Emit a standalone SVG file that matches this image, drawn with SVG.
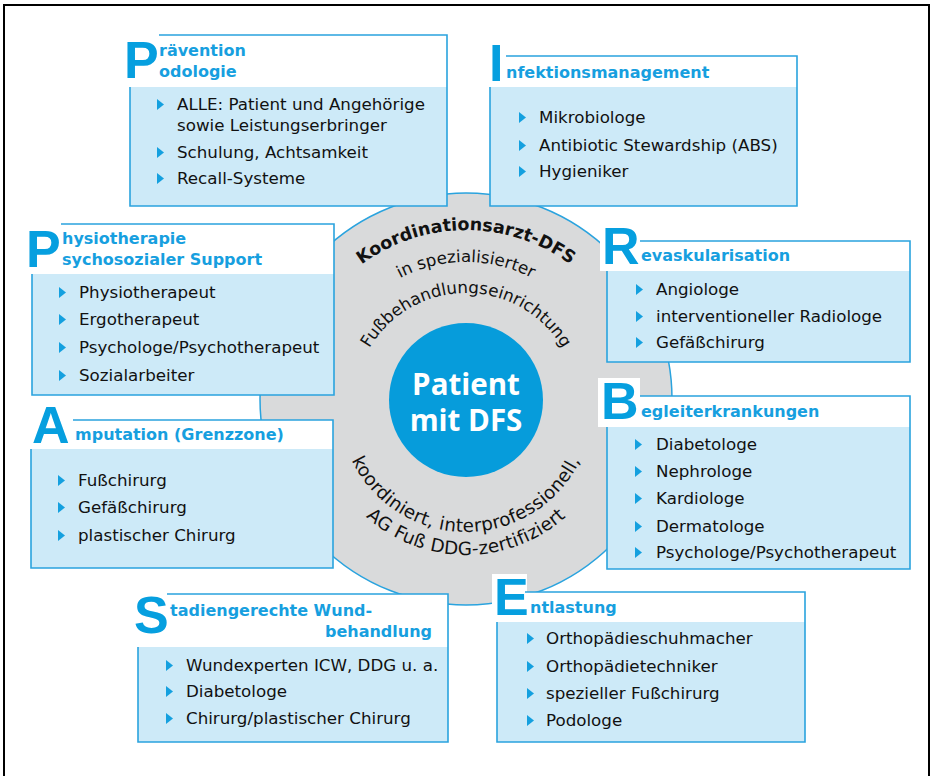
<svg xmlns="http://www.w3.org/2000/svg" width="932" height="776" viewBox="0 0 932 776">
<style>
.frame{fill:none;stroke:#000;stroke-width:2}
.hdr{fill:#fff}
.body{fill:#cdeaf8}
.brd{fill:none;stroke:#2aa3de;stroke-width:1.6}
.big{font-family:"Liberation Sans",Arial,sans-serif;font-weight:700;font-size:52px;fill:#069fdf}
.ht{font-family:"DejaVu Sans",sans-serif;font-weight:700;font-size:16px;fill:#179fdf}
.it{font-family:"DejaVu Sans",sans-serif;font-size:16.7px;fill:#111}
.tri{fill:#14a0df}
.lbg{fill:#fff}
.ct1{font-family:"DejaVu Sans",sans-serif;font-weight:700;font-size:17.5px;fill:#111}
.ct2{font-family:"DejaVu Sans",sans-serif;font-size:16.7px;fill:#111}
.ct3{font-family:"DejaVu Sans",sans-serif;font-size:18.3px;letter-spacing:0.3px;fill:#111}
.pt{font-family:"Open Sans","Liberation Sans",sans-serif;font-weight:700;font-size:29.5px;fill:#fff}
</style>
<defs>
<path id="tri" d="M0,-11 L7,-5.5 L0,0 Z"/>
<path id="a1" d="M291,405 A175,175 0 0 1 641,405"/>
<path id="a2" d="M323,405 A143,143 0 0 1 609,405"/>
<path id="a3" d="M354,405 A112,112 0 0 1 578,405"/>
<path id="a4" d="M339,405 A127,127 0 0 0 593,405"/>
<path id="a5" d="M316,405 A150,150 0 0 0 616,405"/>
</defs>
<rect class="frame" x="4" y="5" width="925" height="800"/>

<g id="center">
<circle cx="466" cy="399" r="206" fill="#d9dadb" stroke="#2aa3de" stroke-width="1.5"/>
<circle cx="466" cy="400" r="77" fill="#069cdb"/>
<text class="pt" x="466" y="395" text-anchor="middle">Patient</text>
<text class="pt" x="466" y="431" text-anchor="middle">mit DFS</text>
<text class="ct1"><textPath href="#a1" startOffset="50%" text-anchor="middle">Koordinationsarzt-DFS</textPath></text>
<text class="ct2"><textPath href="#a2" startOffset="50%" text-anchor="middle">in spezialisierter</textPath></text>
<text class="ct2"><textPath href="#a3" startOffset="50%" text-anchor="middle">Fußbehandlungseinrichtung</textPath></text>
<text class="ct3"><textPath href="#a4" startOffset="50%" text-anchor="middle">koordiniert, interprofessionell,</textPath></text>
<text class="ct3"><textPath href="#a5" startOffset="50%" text-anchor="middle">AG Fuß DDG-zertifiziert</textPath></text>
</g>

<g id="praevention">
<rect class="lbg" x="122" y="32" width="37" height="55"/>
<rect class="hdr" x="130" y="35" width="317" height="52"/>
<rect class="body" x="130" y="87" width="317" height="119"/>
<path class="brd" d="M159,35 H447 V206 H130 V87"/>
<text class="big" x="124" y="78">P</text>
<text class="ht" x="159" y="56">rävention</text>
<text class="ht" x="159" y="77">odologie</text>
<use href="#tri" class="tri" x="157" y="110"/>
<text class="it" x="177" y="110">ALLE: Patient und Angehörige</text>
<text class="it" x="177" y="131">sowie Leistungserbringer</text>
<use href="#tri" class="tri" x="157" y="158"/>
<text class="it" x="177" y="158">Schulung, Achtsamkeit</text>
<use href="#tri" class="tri" x="157" y="184"/>
<text class="it" x="177" y="184">Recall-Systeme</text>
</g>

<g id="infektion">
<rect class="lbg" x="486" y="38" width="20" height="49"/>
<rect class="hdr" x="490" y="56" width="307" height="31"/>
<rect class="body" x="490" y="87" width="307" height="119"/>
<path class="brd" d="M506,56 H797 V206 H490 V87"/>
<text class="big" x="489" y="81">I</text>
<text class="ht" x="506" y="78">nfektionsmanagement</text>
<use href="#tri" class="tri" x="519" y="123"/>
<text class="it" x="539" y="123">Mikrobiologe</text>
<use href="#tri" class="tri" x="519" y="151"/>
<text class="it" x="539" y="151">Antibiotic Stewardship (ABS)</text>
<use href="#tri" class="tri" x="519" y="177"/>
<text class="it" x="539" y="177">Hygieniker</text>
</g>

<g id="physiotherapie">
<rect class="lbg" x="26" y="221" width="35" height="53"/>
<rect class="hdr" x="32" y="224" width="302" height="50"/>
<rect class="body" x="32" y="274" width="302" height="121"/>
<path class="brd" d="M61,224 H334 V395 H32 V274"/>
<text class="big" x="26" y="267">P</text>
<text class="ht" x="62" y="244">hysiotherapie</text>
<text class="ht" x="62" y="265">sychosozialer Support</text>
<use href="#tri" class="tri" x="59" y="298"/>
<text class="it" x="79" y="298">Physiotherapeut</text>
<use href="#tri" class="tri" x="59" y="325"/>
<text class="it" x="79" y="325">Ergotherapeut</text>
<use href="#tri" class="tri" x="59" y="353"/>
<text class="it" x="79" y="353">Psychologe/Psychotherapeut</text>
<use href="#tri" class="tri" x="59" y="381"/>
<text class="it" x="79" y="381">Sozialarbeiter</text>
</g>

<g id="amputation">
<rect class="lbg" x="28" y="399" width="45" height="50"/>
<rect class="hdr" x="31" y="420" width="302" height="29"/>
<rect class="body" x="31" y="449" width="302" height="119"/>
<path class="brd" d="M73,420 H333 V568 H31 V449"/>
<text class="big" x="32" y="443">A</text>
<text class="ht" x="75" y="440">mputation (Grenzzone)</text>
<use href="#tri" class="tri" x="58" y="486"/>
<text class="it" x="78" y="486">Fußchirurg</text>
<use href="#tri" class="tri" x="58" y="513"/>
<text class="it" x="78" y="513">Gefäßchirurg</text>
<use href="#tri" class="tri" x="58" y="541"/>
<text class="it" x="78" y="541">plastischer Chirurg</text>
</g>

<g id="revaskularisation">
<rect class="lbg" x="600" y="222" width="40" height="49"/>
<rect class="hdr" x="607" y="241" width="303" height="30"/>
<rect class="body" x="607" y="271" width="303" height="91"/>
<path class="brd" d="M640,241 H910 V362 H607 V271"/>
<text class="big" x="602" y="264">R</text>
<text class="ht" x="641" y="261">evaskularisation</text>
<use href="#tri" class="tri" x="636" y="295"/>
<text class="it" x="656" y="295">Angiologe</text>
<use href="#tri" class="tri" x="636" y="322"/>
<text class="it" x="656" y="322">interventioneller Radiologe</text>
<use href="#tri" class="tri" x="636" y="348"/>
<text class="it" x="656" y="348">Gefäßchirurg</text>
</g>

<g id="begleiterkrankungen">
<rect class="lbg" x="598" y="378" width="42" height="49"/>
<rect class="hdr" x="607" y="396" width="303" height="31"/>
<rect class="body" x="607" y="427" width="303" height="142"/>
<path class="brd" d="M640,396 H910 V569 H607 V427"/>
<text class="big" x="601" y="419">B</text>
<text class="ht" x="641" y="417">egleiterkrankungen</text>
<use href="#tri" class="tri" x="635" y="450"/>
<text class="it" x="656" y="450">Diabetologe</text>
<use href="#tri" class="tri" x="635" y="477"/>
<text class="it" x="656" y="477">Nephrologe</text>
<use href="#tri" class="tri" x="635" y="504"/>
<text class="it" x="656" y="504">Kardiologe</text>
<use href="#tri" class="tri" x="635" y="532"/>
<text class="it" x="656" y="532">Dermatologe</text>
<use href="#tri" class="tri" x="635" y="558"/>
<text class="it" x="656" y="558">Psychologe/Psychotherapeut</text>
</g>

<g id="stadiengerecht">
<rect class="lbg" x="130" y="590" width="37" height="57"/>
<rect class="hdr" x="138" y="594" width="310" height="53"/>
<rect class="body" x="138" y="647" width="310" height="95"/>
<path class="brd" d="M167,594 H448 V742 H138 V647"/>
<text class="big" x="134" y="633">S</text>
<text class="ht" x="170" y="616">tadiengerechte Wund-</text>
<text class="ht" x="432" y="637" text-anchor="end">behandlung</text>
<use href="#tri" class="tri" x="166" y="671"/>
<text class="it" x="186" y="671">Wundexperten ICW, DDG u. a.</text>
<use href="#tri" class="tri" x="166" y="697"/>
<text class="it" x="186" y="697">Diabetologe</text>
<use href="#tri" class="tri" x="166" y="724"/>
<text class="it" x="186" y="724">Chirurg/plastischer Chirurg</text>
</g>

<g id="entlastung">
<rect class="lbg" x="492" y="574" width="35" height="48"/>
<rect class="hdr" x="497" y="592" width="308" height="30"/>
<rect class="body" x="497" y="622" width="308" height="120"/>
<path class="brd" d="M525,592 H805 V742 H497 V622"/>
<text class="big" x="494" y="615">E</text>
<text class="ht" x="530" y="613">ntlastung</text>
<use href="#tri" class="tri" x="527" y="644"/>
<text class="it" x="546" y="644">Orthopädieschuhmacher</text>
<use href="#tri" class="tri" x="527" y="672"/>
<text class="it" x="546" y="672">Orthopädietechniker</text>
<use href="#tri" class="tri" x="527" y="699"/>
<text class="it" x="546" y="699">spezieller Fußchirurg</text>
<use href="#tri" class="tri" x="527" y="726"/>
<text class="it" x="546" y="726">Podologe</text>
</g>

<g id="connectors"/>
</svg>
